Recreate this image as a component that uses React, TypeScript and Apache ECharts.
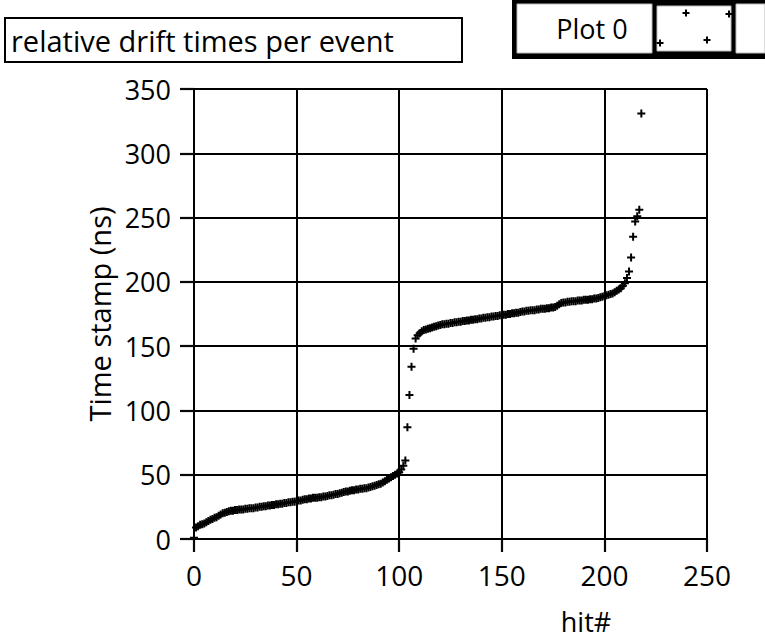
import React, { useEffect, useRef } from "react";
import * as echarts from "echarts";

// Relative drift time (ns) for each hit, hit# = array index
const driftTimes: number[] = [
  1, 9, 10, 11, 11.5, 12, 13, 14, 15, 15.5,
  16.5, 17, 18, 19, 20, 20.5, 21, 21.5, 22, 22,
  22.5, 22.5, 23, 23, 23, 23.5, 23.5, 24, 24, 24,
  24.5, 24.5, 25, 25, 25.5, 25.5, 26, 26, 26.5, 26.5,
  27, 27, 27.5, 27.5, 28, 28, 28.5, 28.5, 29, 29,
  29.5, 30, 30, 30.5, 31, 31, 31.5, 31.5, 32, 32,
  32, 32.5, 32.5, 33, 33, 33.5, 34, 34, 34.5, 35,
  35, 35.5, 36, 36.5, 37, 37, 37.5, 38, 38, 38.5,
  38.5, 39, 39, 39.5, 39.5, 40, 40.5, 41, 41.5, 42,
  42.5, 43, 44, 45, 46, 47, 48, 49, 50, 51,
  52, 54, 57, 61, 87, 112, 134, 148, 156, 158.5,
  160, 161.5, 162.5, 163, 163.5, 164, 164.5, 165, 165.5, 166,
  166.5, 167, 167, 167.5, 167.5, 168, 168, 168.5, 168.5, 169,
  169, 169.5, 169.5, 170, 170, 170.5, 170.5, 171, 171, 171.5,
  171.5, 172, 172, 172.5, 172.5, 173, 173, 173.5, 173.5, 174,
  174, 174.5, 174.5, 175, 175, 175.5, 175.5, 176, 176, 176.5,
  177, 177, 177.5, 177.5, 178, 178, 178, 178.5, 178.5, 179,
  179, 179, 179.5, 179.5, 180, 180, 180.5, 181.5, 182.5, 183.5,
  184, 184, 184.5, 184.5, 185, 185, 185, 185.5, 185.5, 185.5,
  186, 186, 186, 186.5, 186.5, 187, 187, 187.5, 188, 188.5,
  189, 189.5, 190, 190.5, 191, 192, 193, 194, 195, 197,
  199, 203, 208, 219, 235, 247, 251, 256, 331,
];

const xTicks = { min: 0, max: 250, interval: 50 };
const yTicks = { min: 0, max: 350, interval: 50 };

const titleText = "relative drift times per event";
const legendText = "Plot 0";
const xName = "hit#";
const yName = "Time stamp (ns)";

const FONT = "'Open Sans', 'Noto Sans', sans-serif";
const PLUS = "path://M3,0H5V3H8V5H5V8H3V5H0V3H3Z";
const TICK_COLOR = "#080808";

function plus(cx: number, cy: number) {
  return {
    type: "group",
    children: [
      { type: "rect", shape: { x: cx - 3.5, y: cy - 1, width: 7, height: 2 }, style: { fill: "#000" } },
      { type: "rect", shape: { x: cx - 1, y: cy - 3.5, width: 2, height: 7 }, style: { fill: "#000" } },
    ],
  };
}

export default function App() {
  const ref = useRef<HTMLDivElement>(null);
  useEffect(() => {
    if (!ref.current) return;
    const chart = echarts.init(ref.current, undefined, { renderer: "svg" });
    const data = driftTimes.map((v, i) => [i, v]);
    const gridLine = { show: true, lineStyle: { color: "#000", width: 2 } };
    chart.setOption({
      animation: false,
      backgroundColor: "#fff",
      grid: { left: 194, top: 89, width: 513, height: 450 },
      xAxis: {
        type: "value",
        ...xTicks,
        axisLine: { show: true, lineStyle: { color: "#000", width: 2 } },
        axisTick: { show: true, length: 13, lineStyle: { color: TICK_COLOR, width: 2.2 } },
        axisLabel: { show: true, color: "#000", fontFamily: FONT, fontSize: 28, margin: 22 },
        splitLine: gridLine,
      },
      yAxis: {
        type: "value",
        ...yTicks,
        axisLine: { show: true, lineStyle: { color: "#000", width: 2 } },
        axisTick: { show: true, length: 14, lineStyle: { color: TICK_COLOR, width: 2.2 } },
        axisLabel: { show: true, color: "#000", fontFamily: FONT, fontSize: 27, margin: 23 },
        splitLine: gridLine,
        name: yName,
        nameLocation: "middle",
        nameGap: 78,
        nameTextStyle: { color: "#000", fontFamily: FONT, fontSize: 29 },
      },
      series: [
        {
          type: "scatter",
          data,
          symbol: PLUS,
          symbolSize: 8,
          itemStyle: { color: "#000", opacity: 1 },
          silent: true,
        },
      ],
      graphic: [
        {
          type: "rect",
          shape: { x: 5, y: 18, width: 457, height: 44 },
          style: { fill: "#fff", stroke: "#000", lineWidth: 2 },
        },
        {
          type: "text",
          x: 11,
          y: 40,
          style: { text: titleText, fill: "#000", font: `29px ${FONT}`, verticalAlign: "middle", align: "left" },
        },
        { type: "rect", shape: { x: 512, y: 0, width: 253, height: 59 }, style: { fill: "#000" } },
        { type: "rect", shape: { x: 517, y: 4, width: 135, height: 49 }, style: { fill: "#fff", stroke: "#bbb", lineWidth: 1 } },
        { type: "rect", shape: { x: 657, y: 6, width: 74, height: 45 }, style: { fill: "#fff", stroke: "#bbb", lineWidth: 1 } },
        { type: "rect", shape: { x: 736, y: 4, width: 29, height: 49 }, style: { fill: "#fff", stroke: "#bbb", lineWidth: 1 } },
        {
          type: "text",
          x: 592,
          y: 28,
          style: { text: legendText, fill: "#000", font: `27px ${FONT}`, verticalAlign: "middle", align: "center" },
        },
        plus(686, 13),
        plus(729, 14),
        plus(660, 43),
        plus(707, 40),
        {
          type: "text",
          x: 586,
          y: 621,
          style: { text: xName, fill: "#000", font: `27px ${FONT}`, verticalAlign: "middle", align: "center" },
        },
      ],
    });
    return () => chart.dispose();
  }, []);
  return (
    <div
      ref={ref}
      style={{ position: "fixed", left: 0, top: 0, width: 765, height: 640 }}
    />
  );
}
